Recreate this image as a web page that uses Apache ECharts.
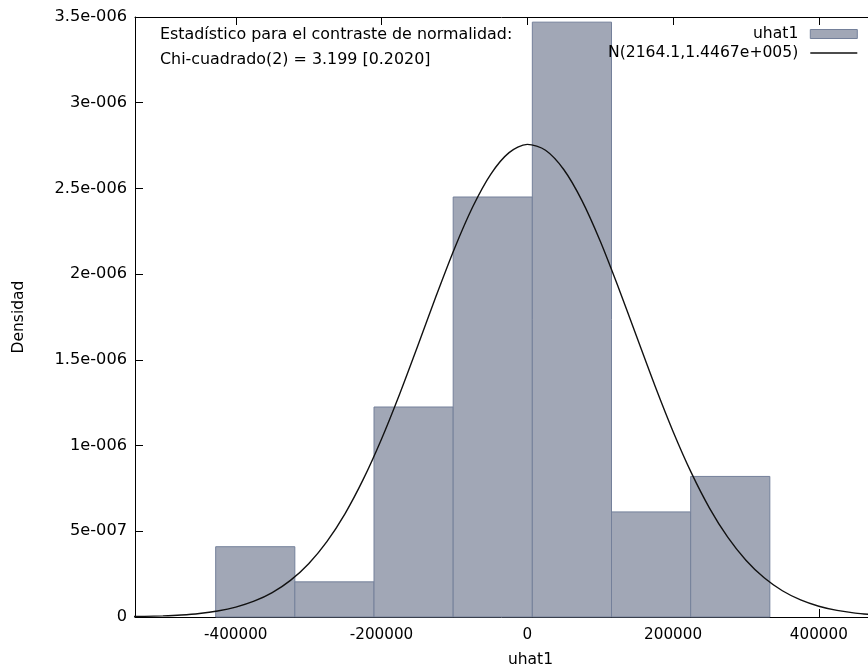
<!DOCTYPE html>
<html>
<head>
<meta charset="utf-8">
<script src="https://cdn.jsdelivr.net/npm/echarts@6/dist/echarts.min.js"></script>
<style>html,body{margin:0;padding:0;background:#fff}#c{width:868px;height:671px}</style>
</head>
<body>
<div id="c"></div>
<script>
// Histogram bins (edges) and densities
const binEdges = [-427600, -318970, -210340, -101710, 6920, 115550, 224180, 332810];
const densities = [4.1e-7, 2.05e-7, 1.225e-6, 2.45e-6, 3.47e-6, 6.13e-7, 8.2e-7];

// Normal curve points
const curveX = [-550000,-525000,-500000,-475000,-450000,-425000,-400000,-375000,-350000,-325000,
  -300000,-275000,-250000,-225000,-200000,-175000,-150000,-125000,-100000,-75000,-50000,-25000,
  0,25000,50000,75000,100000,125000,150000,175000,200000,225000,250000,275000,300000,325000,
  350000,375000,400000,425000,450000,475000];
const curveY = [1.89e-9,3.61e-9,6.67e-9,1.197e-8,2.08e-8,3.53e-8,5.79e-8,9.22e-8,1.424e-7,2.137e-7,
  3.112e-7,4.40e-7,6.035e-7,8.04e-7,1.0386e-6,1.3027e-6,1.5856e-6,1.8737e-6,2.1485e-6,2.3914e-6,2.5836e-6,2.7088e-6,
  2.7567e-6,2.7227e-6,2.6103e-6,2.4289e-6,2.1934e-6,1.9224e-6,1.6357e-6,1.3504e-6,1.0824e-6,8.42e-7,6.355e-7,4.656e-7,3.311e-7,2.285e-7,
  1.531e-7,9.96e-8,6.29e-8,3.85e-8,2.29e-8,1.32e-8];

const xTicks = [-400000, -200000, 0, 200000, 400000];
const xTickLabels = ['-400000', '-200000', '0', '200000', '400000'];
const yTickLabels = ['0', '5e-007', '1e-006', '1.5e-006', '2e-006', '2.5e-006', '3e-006', '3.5e-006'];

const seriesNames = ['uhat1', 'N(2164.1,1.4467e+005)'];
const statLines = ['Estadístico para el contraste de normalidad:', 'Chi-cuadrado(2) = 3.199 [0.2020]'];
const xName = 'uhat1';
const yName = 'Densidad';

const FONT = 'DejaVu Sans';
const barFill = '#a1a7b6';
const barStroke = '#74809a';
const curveColor = '#111';

const histData = densities.map((d, i) => [binEdges[i], binEdges[i + 1], d]);
const curveData = curveX.map((x, i) => [x, curveY[i]]);

const chart = echarts.init(document.getElementById('c'), null, {renderer: 'canvas'});
chart.setOption({
  animation: false,
  backgroundColor: '#fff',
  grid: {left: 135, top: 17, right: 0, bottom: 54, containLabel: false, outerBoundsMode: 'none'},
  xAxis: [{
    type: 'value', position: 'bottom', min: -538300, max: 467500,
    name: xName, nameLocation: 'middle', nameGap: 35,
    nameTextStyle: {fontFamily: FONT, fontSize: 15.5, color: '#000', padding: [0, 0, 0, 58]},
    axisLine: {show: true, onZero: false, lineStyle: {color: '#000', width: 1}},
    axisTick: {show: true, inside: true, length: 8, customValues: xTicks, lineStyle: {color: '#000'}},
    axisLabel: {show: true, customValues: xTicks, margin: 11, fontFamily: FONT, fontSize: 15.2, color: '#000',
      formatter: v => xTickLabels[xTicks.indexOf(Math.round(v))] ?? ''},
    splitLine: {show: false}
  }, {
    type: 'value', position: 'top', min: -538300, max: 467500,
    axisLine: {show: true, onZero: false, lineStyle: {color: '#000', width: 1}},
    axisTick: {show: true, inside: true, length: 8, customValues: xTicks, lineStyle: {color: '#000'}},
    axisLabel: {show: false},
    splitLine: {show: false}
  }],
  yAxis: {
    type: 'value', min: 0, max: 3.5e-6, interval: 5e-7,
    name: yName, nameLocation: 'middle', nameGap: 108, nameRotate: 90,
    nameTextStyle: {fontFamily: FONT, fontSize: 15.5, color: '#000'},
    axisLine: {show: true, onZero: false, lineStyle: {color: '#000', width: 1}},
    axisTick: {show: true, inside: true, length: 8, lineStyle: {color: '#000'}},
    axisLabel: {margin: 8, fontFamily: FONT, fontSize: 16.2, color: '#000', padding: [4, 0, 0, 0],
      formatter: v => yTickLabels[Math.round(v / 5e-7)] ?? ''},
    splitLine: {show: false}
  },
  legend: {
    orient: 'vertical', align: 'right', right: 10, top: 25, padding: 0,
    itemWidth: 47, itemHeight: 9, itemGap: 1,
    textStyle: {fontFamily: FONT, fontSize: 15.6, color: '#000', lineHeight: 18, padding: [0, 7, 0, 0]},
    data: [
      {name: seriesNames[0], icon: 'rect', itemStyle: {color: barFill, borderColor: barStroke, borderWidth: 1}},
      {name: seriesNames[1], itemStyle: {opacity: 0}, lineStyle: {color: curveColor, width: 1.4}}
    ]
  },
  graphic: statLines.map((t, i) => ({
    type: 'text', x: 160, y: 35 + i * 25,
    style: {text: t, fontFamily: FONT, fontSize: 15.9, fill: '#000', verticalAlign: 'middle'}
  })),
  series: [{
    name: seriesNames[0], type: 'custom', xAxisIndex: 0,
    encode: {x: [0, 1], y: 2},
    data: histData,
    itemStyle: {color: barFill},
    renderItem: (params, api) => {
      const p0 = api.coord([api.value(0), api.value(2)]);
      const p1 = api.coord([api.value(1), 0]);
      return {type: 'rect', shape: {x: p0[0], y: p0[1], width: p1[0] - p0[0], height: p1[1] - p0[1]},
        style: {fill: barFill, stroke: barStroke, lineWidth: 1}};
    },
    z: 1
  }, {
    name: seriesNames[1], type: 'line', xAxisIndex: 0,
    data: curveData, symbol: 'none', showSymbol: false, smooth: 0.3, clip: true,
    lineStyle: {color: curveColor, width: 1.4}, itemStyle: {color: curveColor},
    z: 3
  }]
});
</script>
</body>
</html>
